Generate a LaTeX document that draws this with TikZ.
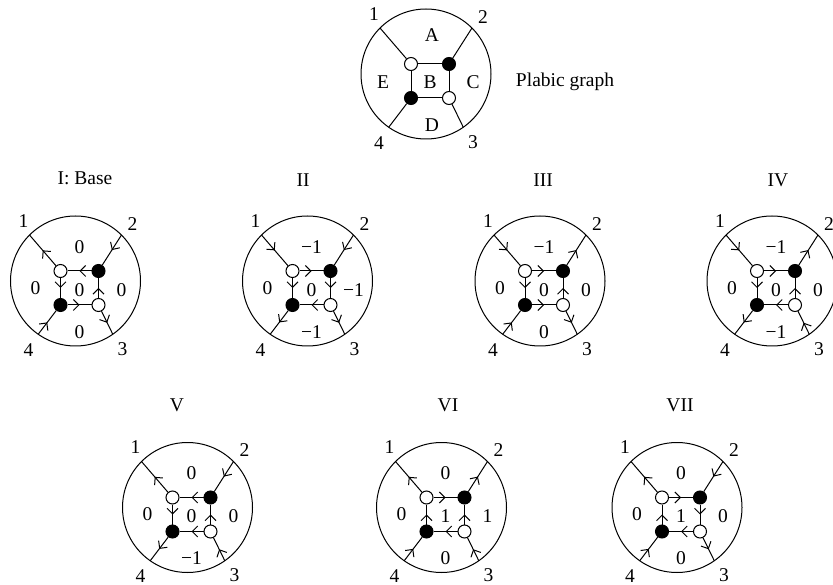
\documentclass[tikz,border=0pt]{standalone}
\usepackage{fontspec}
\setmainfont{Liberation Serif}
\usetikzlibrary{arrows.meta,decorations.markings}

% disk with boundary points 1..4 and the four internal vertices
\newcommand{\plabicdisk}[3]{%
  \begin{scope}[shift={(#2,#3)}]
    \node[disk] (#1-c) at (0,0) {};
    \coordinate (#1-1) at (#1-c.135);
    \coordinate (#1-2) at (#1-c.45);
    \coordinate (#1-3) at (#1-c.-55);
    \coordinate (#1-4) at (#1-c.-125);
    \node[wv] (#1-wt) at (-15,-10) {};
    \node[bv] (#1-bt) at (23,-10) {};
    \node[bv] (#1-bb) at (-15,24) {};
    \node[wv] (#1-wb) at (23,24) {};
    \node (#1-n1) at (-52,-60) {1};
    \node (#1-n2) at (57,-57) {2};
    \node (#1-n3) at (47,68) {3};
    \node (#1-n4) at (-47,69) {4};
  \end{scope}}

% edge styles: boundary edges 1,2,3,4 then top, right, bottom, left
\newcommand{\orient}[9]{%
  \draw[#2] (#1-1) -- (#1-wt);
  \draw[#3] (#1-2) -- (#1-bt);
  \draw[#4] (#1-3) -- (#1-wb);
  \draw[#5] (#1-4) -- (#1-bb);
  \draw[#6] (#1-wt) -- (#1-bt);
  \draw[#7] (#1-bt) -- (#1-wb);
  \draw[#8] (#1-bb) -- (#1-wb);
  \draw[#9] (#1-wt) -- (#1-bb);}

% face weights: top, left, centre, right, bottom
\newcommand{\faces}[6]{%
  \begin{scope}[shift={(#1-c)}]
    \node (#1-ft) at (4,-34) {#2};
    \node (#1-fl) at (-40,7) {#3};
    \node (#1-fc) at (4,9) {#4};
    \node (#1-fr) at (46,9) {#5};
    \node (#1-fb) at (4,51) {#6};
  \end{scope}}

\begin{document}
\begin{tikzpicture}[x=1pt,y=-1pt,
  line width=1pt,
  every node/.style={font=\fontsize{19.5}{22}\selectfont},
  disk/.style={circle,draw,minimum size=130pt,inner sep=0pt,outer sep=0pt},
  wv/.style={circle,draw,fill=white,minimum size=13pt,inner sep=0pt},
  bv/.style={circle,draw,fill=black,minimum size=13pt,inner sep=0pt},
  fwd/.style={postaction={decorate,decoration={markings,
      mark=at position 0.5 with {\arrow{Straight Barb[length=5.5pt,width=11pt,line width=1pt]}}}}},
  bwd/.style={postaction={decorate,decoration={markings,
      mark=at position 0.5 with {\arrowreversed{Straight Barb[length=5.5pt,width=11pt,line width=1pt]}}}}},
  plain/.style={}]

\fill[white] (0,0) rectangle (833,585);
\useasboundingbox (0,0) rectangle (833,585);

% the undirected plabic graph
\plabicdisk{P}{426}{74}
\orient{P}{plain}{plain}{plain}{plain}{plain}{plain}{plain}{plain}
\begin{scope}[shift={(P-c)}]
  \node (P-A) at (6,-39) {A};
  \node (P-E) at (-43,8) {E};
  \node (P-B) at (4,8) {B};
  \node (P-C) at (47,8) {C};
  \node (P-D) at (6,51) {D};
\end{scope}
\node (ptitle) at (565,82) {Plabic graph};

% perfect orientations
\node (t1) at (85,178) {I: Base};
\plabicdisk{a}{75.5}{281}
\orient{a}{bwd}{fwd}{bwd}{fwd}{bwd}{bwd}{fwd}{fwd}
\faces{a}{0}{0}{0}{0}{0}

\node (t2) at (303,180) {II};
\plabicdisk{b}{307.5}{281}
\orient{b}{fwd}{fwd}{bwd}{bwd}{fwd}{fwd}{bwd}{fwd}
\faces{b}{−1}{0}{0}{−1}{−1}

\node (t3) at (543,180) {III};
\plabicdisk{c}{540}{281}
\orient{c}{fwd}{bwd}{bwd}{fwd}{fwd}{bwd}{fwd}{fwd}
\faces{c}{−1}{0}{0}{0}{0}

\node (t4) at (778,180) {IV};
\plabicdisk{d}{772}{281}
\orient{d}{fwd}{bwd}{fwd}{bwd}{fwd}{bwd}{bwd}{fwd}
\faces{d}{−1}{0}{0}{0}{−1}

\node (t5) at (177,405) {V};
\plabicdisk{e}{187.5}{507.5}
\orient{e}{bwd}{fwd}{fwd}{bwd}{bwd}{bwd}{bwd}{fwd}
\faces{e}{0}{0}{0}{0}{−1}

\node (t6) at (448,405) {VI};
\plabicdisk{f}{441.5}{507.5}
\orient{f}{bwd}{bwd}{fwd}{fwd}{fwd}{bwd}{bwd}{bwd}
\faces{f}{0}{0}{1}{1}{0}

\node (t7) at (680,405) {VII};
\plabicdisk{g}{677}{507.5}
\orient{g}{bwd}{fwd}{bwd}{fwd}{fwd}{fwd}{bwd}{bwd}
\faces{g}{0}{0}{1}{0}{0}

\end{tikzpicture}
\end{document}
